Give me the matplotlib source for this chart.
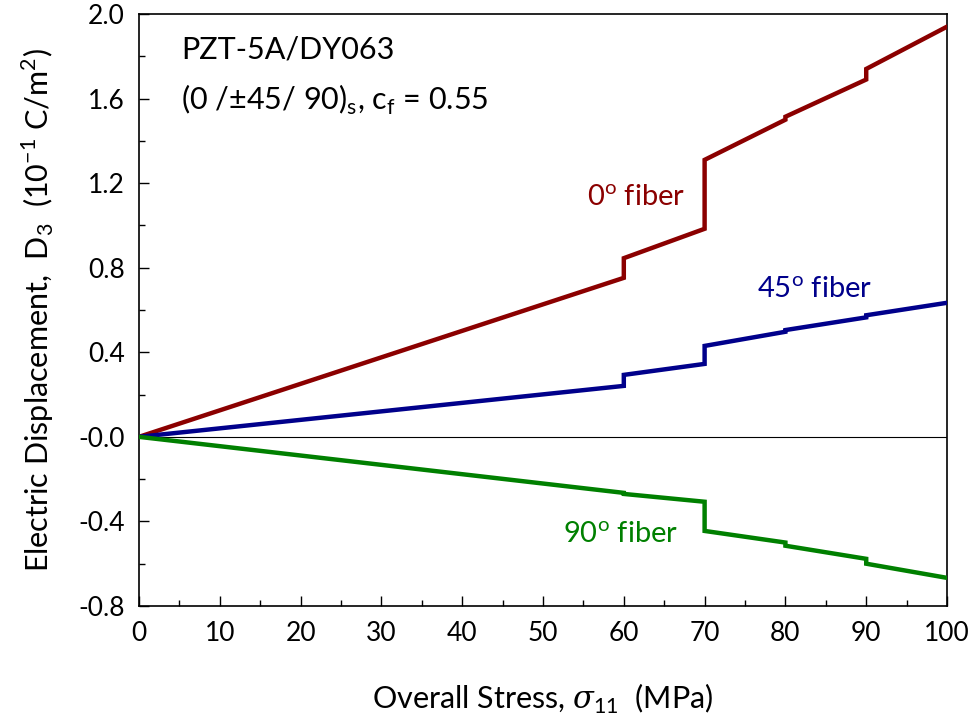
import matplotlib
matplotlib.use("Agg")
import matplotlib.pyplot as plt
from matplotlib.ticker import MultipleLocator

plt.rcParams['font.family'] = ['Lato', 'DejaVu Sans']
plt.rcParams['mathtext.fontset'] = 'custom'
plt.rcParams['mathtext.rm'] = 'Lato'
plt.rcParams['mathtext.it'] = 'DejaVu Serif:italic'

stress = [0, 60, 60, 70, 70, 80, 80, 90, 90, 100]
d_0 = [0.0, 0.752, 0.845, 0.984, 1.31, 1.50, 1.514, 1.69, 1.74, 1.94]
d_45 = [0.0, 0.241, 0.293, 0.345, 0.43, 0.497, 0.505, 0.565, 0.575, 0.634]
d_90 = [0.0, -0.265, -0.27, -0.307, -0.445, -0.50, -0.515, -0.577, -0.60, -0.667]

y_ticks = [-0.8, -0.4, 0.0, 0.4, 0.8, 1.2, 1.6, 2.0]
y_labels = ['-0.8', '-0.4', '-0.0', '0.4', '0.8', '1.2', '1.6', '2.0']
x_ticks = [0, 10, 20, 30, 40, 50, 60, 70, 80, 90, 100]

fig = plt.figure(figsize=(9.74, 7.28), dpi=100)
ax = fig.add_axes([0.1427, 0.1676, 0.8296, 0.8132])

ax.axhline(0, color='black', lw=0.8, zorder=1)
ax.plot(stress, d_0, color='#8B0000', lw=3.2, solid_joinstyle='miter', zorder=3)
ax.plot(stress, d_45, color='#00008B', lw=3.2, solid_joinstyle='miter', zorder=3)
ax.plot(stress, d_90, color='#008000', lw=3.2, solid_joinstyle='miter', zorder=3)

ax.set_xlim(0, 100)
ax.set_ylim(-0.8, 2.0)
ax.set_xticks(x_ticks)
ax.set_xticklabels([str(v) for v in x_ticks])
ax.set_yticks(y_ticks)
ax.set_yticklabels(y_labels)
ax.xaxis.set_minor_locator(MultipleLocator(5))
ax.yaxis.set_minor_locator(MultipleLocator(0.2))
ax.tick_params(which='both', direction='in', top=False, right=False, labelsize=19)
ax.tick_params(which='major', length=7, width=1)
ax.tick_params(which='minor', length=4, width=1)
ax.tick_params(axis='x', pad=11)
ax.tick_params(axis='y', pad=10)
for s in ax.spines.values():
    s.set_linewidth(1.2)

ax.set_xlabel(r'Overall Stress, $\mathit{\sigma}_\mathregular{11}$  (MPa)', fontsize=22, labelpad=26)
ax.set_ylabel(r'Electric Displacement,  D$_3$  (10$^{-1}$ C/m$^2$)', fontsize=22, labelpad=16)

ax.text(5.2, 1.83, 'PZT-5A/DY063', fontsize=22, color='black', va='center')
ax.text(5.2, 1.594, r'(0 /±45/ 90)$_\mathregular{s}$, c$_\mathregular{f}$ = 0.55', fontsize=22, color='black', va='center')
ax.text(55.5, 1.13, r'0$^\mathregular{o}$ fiber', fontsize=21, color='#8B0000', va='center')
ax.text(76.5, 0.695, r'45$^\mathregular{o}$ fiber', fontsize=21, color='#00008B', va='center')
ax.text(52.5, -0.464, r'90$^\mathregular{o}$ fiber', fontsize=21, color='#008000', va='center')

fig.savefig('out.png', dpi=100)
